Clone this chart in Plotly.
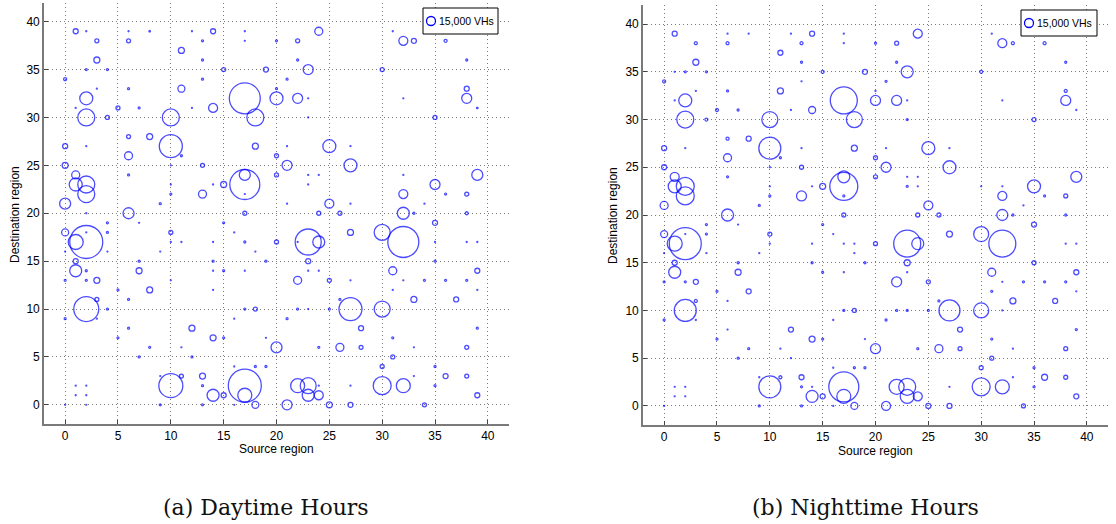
import plotly.graph_objects as go

# ---------------- Daytime data (source region, destination region, VHs) ----------------
day_src = [
    1, 2, 6, 8, 12, 14, 17, 24, 31,                 # 39
    3, 6, 13, 17, 20, 22, 32, 33, 36,               # 38
    11,                                             # 37
    3, 13, 22, 38,                                  # 36
    2, 4, 15, 19, 23, 30,                           # 35
    0, 13, 21,                                      # 34
    3, 6, 11, 20, 38,                               # 33
    2, 17, 20, 22, 23, 32, 38,                      # 32
    1, 5, 7, 12, 14, 39,                            # 31
    2, 4, 10, 18, 23, 35,                           # 30
    6, 8,                                           # 28
    0, 2, 10, 18, 21, 25, 27,                       # 27
    6, 11, 20,                                      # 26
    0, 10, 13, 21, 27,                              # 25
    1, 6, 17, 20, 23, 24, 32, 39,                   # 24
    1, 2, 10, 14, 15, 17, 23, 35,                   # 23
    2, 10, 13, 17, 32, 36, 38,                      # 22
    0, 9, 21, 25, 27, 34,                           # 21
    2, 6, 17, 24, 26, 32, 33, 38,                   # 20
    4, 7, 15, 35,                                   # 19
    0, 2, 4, 10, 16, 27, 30,                        # 18
    1, 2, 10, 11, 14, 17, 20, 22, 23, 24, 32, 35, 38, 39,  # 17
    0, 4, 9, 18,                                    # 16
    1, 7, 14, 19, 23, 35,                           # 15
    1, 2, 7, 14, 15, 17, 23, 24, 31, 39,            # 14
    0, 2, 3, 10, 22, 25, 27, 32, 34, 36, 38,        # 13
    5, 8, 14, 31, 39,                               # 12
    3, 6, 26, 33, 37,                               # 11
    2, 4, 17, 18, 22, 23, 25, 27, 30,               # 10
    0, 3, 16, 21,                                   # 9
    6, 12, 28, 39,                                  # 8
    5, 14, 15, 19, 31,                              # 7
    8, 11, 20, 24, 26, 28, 33, 38,                  # 6
    7, 12, 31,                                      # 5
    16, 18, 19, 30, 35,                             # 4
    9, 11, 13, 33, 36, 38,                          # 3
    1, 2, 10, 13, 17, 22, 23, 24, 27, 30, 32, 35,   # 2
    1, 2, 14, 15, 17, 23, 24, 39,                   # 1
    0, 2, 9, 13, 16, 18, 21, 25, 27, 34,            # 0
]
day_dst = [
    39, 39, 39, 39, 39, 39, 39, 39, 39,
    38, 38, 38, 38, 38, 38, 38, 38, 38,
    37,
    36, 36, 36, 36,
    35, 35, 35, 35, 35, 35,
    34, 34, 34,
    33, 33, 33, 33, 33,
    32, 32, 32, 32, 32, 32, 32,
    31, 31, 31, 31, 31, 31,
    30, 30, 30, 30, 30, 30,
    28, 28,
    27, 27, 27, 27, 27, 27, 27,
    26, 26, 26,
    25, 25, 25, 25, 25,
    24, 24, 24, 24, 24, 24, 24, 24,
    23, 23, 23, 23, 23, 23, 23, 23,
    22, 22, 22, 22, 22, 22, 22,
    21, 21, 21, 21, 21, 21,
    20, 20, 20, 20, 20, 20, 20, 20,
    19, 19, 19, 19,
    18, 18, 18, 18, 18, 18, 18,
    17, 17, 17, 17, 17, 17, 17, 17, 17, 17, 17, 17, 17, 17,
    16, 16, 16, 16,
    15, 15, 15, 15, 15, 15,
    14, 14, 14, 14, 14, 14, 14, 14, 14, 14,
    13, 13, 13, 13, 13, 13, 13, 13, 13, 13, 13,
    12, 12, 12, 12, 12,
    11, 11, 11, 11, 11,
    10, 10, 10, 10, 10, 10, 10, 10, 10,
    9, 9, 9, 9,
    8, 8, 8, 8,
    7, 7, 7, 7, 7,
    6, 6, 6, 6, 6, 6, 6, 6,
    5, 5, 5,
    4, 4, 4, 4, 4,
    3, 3, 3, 3, 3, 3,
    2, 2, 2, 2, 2, 2, 2, 2, 2, 2, 2, 2,
    1, 1, 1, 1, 1, 1, 1, 1,
    0, 0, 0, 0, 0, 0, 0, 0, 0, 0,
]
day_vhs = [
    3750, 150, 150, 350, 150, 3750, 150, 9600, 150,
    2400, 2400, 600, 150, 600, 2400, 12200, 3750, 1350,
    5400,
    5400, 600, 600, 600,
    600, 600, 2400, 3750, 15000, 2400,
    1350, 600, 600,
    150, 600, 7350, 600, 3750,
    25400, 144200, 25400, 15000, 150, 150, 15000,
    150, 2400, 600, 150, 12200, 350,
    43400, 2400, 43400, 43400, 150, 2400,
    2400, 5400,
    3750, 150, 79400, 5400, 150, 25400, 150,
    9600, 600, 2400,
    5400, 150, 2400, 15000, 25400,
    9600, 600, 18200, 2400, 150, 150, 150, 18200,
    25400, 43400, 150, 150, 5400, 135000, 150, 15000,
    43400, 600, 9600, 150, 12200, 600, 2400,
    18200, 600, 150, 12200, 150, 150,
    150, 18200, 2400, 2400, 2400, 21600, 600, 1350,
    600, 150, 600, 3750,
    7350, 150, 600, 2400, 150, 5400, 38400,
    33800, 163400, 150, 150, 150, 600, 2400, 150, 101400, 21600, 144200, 150, 150, 150,
    150, 150, 150, 150,
    3750, 600, 600, 600, 3750, 600,
    21600, 600, 5400, 150, 600, 150, 150, 150, 9600, 3750,
    600, 600, 5400, 150, 9600, 2400, 150, 150, 600, 600, 600,
    600, 5400, 150, 150, 150,
    2400, 600, 600, 5400, 3750,
    93800, 600, 600, 2400, 600, 150, 600, 79400, 38400,
    600, 150, 150, 600,
    600, 5400, 3750, 600,
    600, 5400, 600, 150, 600,
    600, 150, 18200, 600, 9600, 2400, 150, 2400,
    600, 600, 2400,
    150, 600, 600, 2400, 600,
    150, 2400, 5400, 150, 3750, 2400,
    150, 150, 86400, 600, 163400, 29400, 38400, 150, 150, 48600, 29400, 600,
    150, 150, 21600, 3750, 29400, 21600, 12200, 3750,
    150, 150, 600, 600, 150, 7350, 15000, 5400, 3750, 2400,
]

# ---------------- Nighttime data ----------------
night_src = [
    1, 6, 8, 12, 14, 17, 24, 31,                    # 39
    3, 6, 13, 17, 20, 22, 32, 33, 36,               # 38
    11,                                             # 37
    3, 13, 22, 38,                                  # 36
    1, 2, 4, 15, 19, 23, 30,                        # 35
    0, 13, 21,                                      # 34
    3, 6, 11, 20, 38,                               # 33
    1, 2, 17, 20, 22, 23, 32, 38,                   # 32
    5, 7, 12, 14, 39,                               # 31
    2, 4, 10, 18, 23, 35,                           # 30
    6, 8,                                           # 28
    0, 2, 10, 13, 18, 21, 25, 27,                   # 27
    6, 11, 20,                                      # 26
    0, 10, 13, 21, 27,                              # 25
    1, 6, 17, 20, 23, 24, 39,                       # 24
    1, 2, 10, 14, 15, 17, 23, 24, 30, 32, 35,       # 23
    2, 10, 13, 17, 32, 36, 38,                      # 22
    0, 9, 25, 34,                                   # 21
    6, 17, 24, 26, 32, 33, 38,                      # 20
    4, 7, 15, 35,                                   # 19
    0, 2, 4, 10, 16, 27, 30,                        # 18
    1, 2, 10, 14, 17, 18, 20, 23, 24, 32, 38, 39,   # 17
    0, 4, 9, 18,                                    # 16
    1, 7, 14, 19, 23, 35,                           # 15
    1, 7, 15, 17, 23, 31, 39,                       # 14
    0, 2, 3, 22, 25, 32, 34, 36, 38,                # 13
    5, 8, 31, 39,                                   # 12
    3, 6, 26, 33, 37,                               # 11
    2, 17, 18, 22, 23, 25, 27, 30, 32,              # 10
    0, 3, 16, 21,                                   # 9
    6, 12, 28, 39,                                  # 8
    5, 14, 15, 19, 31,                              # 7
    8, 11, 20, 24, 26, 28, 33, 38,                  # 6
    7, 12, 31,                                      # 5
    16, 18, 19, 30, 35,                             # 4
    9, 11, 13, 33, 36, 38,                          # 3
    1, 2, 10, 13, 14, 17, 22, 23, 27, 30, 32, 35,   # 2
    1, 2, 14, 15, 17, 23, 24, 39,                   # 1
    0, 9, 13, 16, 18, 21, 25, 27, 34,               # 0
]
night_dst = [
    39, 39, 39, 39, 39, 39, 39, 39,
    38, 38, 38, 38, 38, 38, 38, 38, 38,
    37,
    36, 36, 36, 36,
    35, 35, 35, 35, 35, 35, 35,
    34, 34, 34,
    33, 33, 33, 33, 33,
    32, 32, 32, 32, 32, 32, 32, 32,
    31, 31, 31, 31, 31,
    30, 30, 30, 30, 30, 30,
    28, 28,
    27, 27, 27, 27, 27, 27, 27, 27,
    26, 26, 26,
    25, 25, 25, 25, 25,
    24, 24, 24, 24, 24, 24, 24,
    23, 23, 23, 23, 23, 23, 23, 23, 23, 23, 23,
    22, 22, 22, 22, 22, 22, 22,
    21, 21, 21, 21,
    20, 20, 20, 20, 20, 20, 20,
    19, 19, 19, 19,
    18, 18, 18, 18, 18, 18, 18,
    17, 17, 17, 17, 17, 17, 17, 17, 17, 17, 17, 17,
    16, 16, 16, 16,
    15, 15, 15, 15, 15, 15,
    14, 14, 14, 14, 14, 14, 14,
    13, 13, 13, 13, 13, 13, 13, 13, 13,
    12, 12, 12, 12,
    11, 11, 11, 11, 11,
    10, 10, 10, 10, 10, 10, 10, 10, 10,
    9, 9, 9, 9,
    8, 8, 8, 8,
    7, 7, 7, 7, 7,
    6, 6, 6, 6, 6, 6, 6, 6,
    5, 5, 5,
    4, 4, 4, 4, 4,
    3, 3, 3, 3, 3, 3,
    2, 2, 2, 2, 2, 2, 2, 2, 2, 2, 2, 2,
    1, 1, 1, 1, 1, 1, 1, 1,
    0, 0, 0, 0, 0, 0, 0, 0, 0,
]
night_vhs = [
    3750, 150, 150, 150, 3750, 150, 12200, 150,
    1350, 1350, 1350, 150, 600, 2400, 12200, 1350, 1350,
    3750,
    5400, 600, 600, 600,
    150, 600, 600, 1350, 3750, 21600, 1350,
    1350, 150, 600,
    150, 600, 5400, 150, 1350,
    150, 25400, 109400, 15000, 15000, 150, 150, 15000,
    1350, 600, 150, 7350, 150,
    43400, 1350, 38400, 38400, 600, 2400,
    1350, 3750,
    3750, 150, 72600, 150, 5400, 150, 25400, 150,
    9600, 600, 2400,
    3750, 150, 2400, 15000, 25400,
    12200, 600, 21600, 2400, 150, 150, 18200,
    25400, 48600, 150, 150, 5400, 117600, 600, 150, 150, 150, 25400,
    48600, 600, 15000, 600, 12200, 600, 2400,
    9600, 600, 12200, 150,
    21600, 2400, 2400, 2400, 18200, 600, 600,
    600, 150, 600, 3750,
    7350, 150, 600, 2400, 150, 5400, 33800,
    33800, 153600, 150, 150, 150, 150, 2400, 109400, 21600, 109400, 150, 150,
    150, 150, 150, 150,
    3750, 600, 600, 600, 5400, 2400,
    21600, 5400, 600, 150, 150, 9600, 3750,
    600, 600, 3750, 15000, 2400, 150, 600, 600, 600,
    600, 3750, 600, 150,
    1350, 150, 600, 5400, 3750,
    72600, 600, 2400, 600, 600, 600, 66200, 33800, 150,
    600, 150, 150, 600,
    150, 3750, 3750, 600,
    600, 5400, 600, 150, 600,
    600, 150, 15000, 600, 9600, 2400, 150, 2400,
    600, 150, 2400,
    150, 600, 600, 2400, 600,
    150, 1350, 3750, 150, 5400, 2400,
    150, 150, 72600, 600, 150, 135000, 33800, 43400, 150, 48600, 29400, 600,
    150, 150, 21600, 3750, 29400, 29400, 12200, 3750,
    150, 600, 600, 150, 7350, 12200, 3750, 3750, 2400,
]

assert len(day_src) == len(day_dst) == len(day_vhs), (len(day_src), len(day_dst), len(day_vhs))
assert len(night_src) == len(night_dst) == len(night_vhs), (len(night_src), len(night_dst), len(night_vhs))

axis_ticks = [0, 5, 10, 15, 20, 25, 30, 35, 40]
axis_range = [-2, 42]
legend_value = 15000
legend_label = "15,000 VHs"
captions = ["(a) Daytime Hours", "(b) Nighttime Hours"]
x_title = "Source region"
y_title = "Destination region"

W, H = 1116, 524
BLUE = "#0000ff"
SIZEREF = 300  # area mode: 15,000 VHs -> ~10 px circle
MLW = 1.3


def px(x):
    return x / W


def py(y):
    return 1 - y / H


fig = go.Figure()

for i, (src, dst, vhs) in enumerate([(day_src, day_dst, day_vhs), (night_src, night_dst, night_vhs)]):
    fig.add_trace(go.Scatter(
        x=src, y=dst, mode="markers",
        xaxis="x" if i == 0 else "x2", yaxis="y" if i == 0 else "y2",
        marker=dict(size=vhs, sizemode="area", sizeref=SIZEREF, sizemin=0,
                    symbol="circle-open", color=BLUE, line=dict(color=BLUE, width=MLW)),
        showlegend=False, hoverinfo="x+y+text", text=[f"{v:,} VHs" for v in vhs],
    ))

font_ax = dict(family="Liberation Sans, Arial, sans-serif", size=12, color="black")

def axis(domain, anchor):
    return dict(domain=domain, anchor=anchor, range=axis_range, tickvals=axis_ticks,
                ticks="inside", ticklen=4, tickcolor="#444", tickwidth=1,
                showline=True, linecolor="#7a7a7a", linewidth=1.6, mirror=False,
                showgrid=True, gridcolor="#7a7a7a", gridwidth=1, griddash="1px,3px",
                zeroline=False, tickfont=font_ax, fixedrange=True)

fig.update_layout(
    width=W, height=H, margin=dict(l=0, r=0, t=0, b=0),
    paper_bgcolor="white", plot_bgcolor="white",
    xaxis=axis([px(44), px(509)], "y"),
    yaxis=axis([py(424), py(2.5)], "x"),
    xaxis2=axis([px(643), px(1108)], "y2"),
    yaxis2=axis([py(425), py(5)], "x2"),
    showlegend=False,
)

# legend boxes (drawn in paper coordinates)
legend_boxes = [(423, 8, 498, 34), (1021, 10, 1097, 36)]
shapes = []
annotations = []
legend_d = (legend_value / (SIZEREF / 2)) ** 0.5 - 1
for (x0, y0, x1, y1) in legend_boxes:
    shapes.append(dict(type="rect", xref="paper", yref="paper", x0=px(x0), x1=px(x1), y0=py(y1), y1=py(y0),
                       line=dict(color="black", width=1), fillcolor="white", layer="above"))
    cx, cy = x0 + 8, (y0 + y1) / 2
    r = legend_d / 2
    shapes.append(dict(type="circle", xref="paper", yref="paper", x0=px(cx - r), x1=px(cx + r),
                       y0=py(cy + r), y1=py(cy - r), line=dict(color=BLUE, width=MLW), layer="above"))
    annotations.append(dict(text=legend_label, xref="paper", yref="paper", x=px(x0 + 14), y=py(cy),
                            xanchor="left", yanchor="middle", showarrow=False,
                            font=dict(family="Liberation Sans, Arial, sans-serif", size=10.5, color="black")))

# axis titles and captions
for cx_title, cy_title, cx_y, cy_y in [(276, 449, 15, 215), (875, 451, 613, 216)]:
    annotations.append(dict(text=x_title, xref="paper", yref="paper", x=px(cx_title), y=py(cy_title),
                            xanchor="center", yanchor="middle", showarrow=False, font=font_ax))
    annotations.append(dict(text=y_title, xref="paper", yref="paper", x=px(cx_y), y=py(cy_y),
                            xanchor="center", yanchor="middle", showarrow=False, textangle=-90, font=font_ax))
for cap, cx_cap in zip(captions, [266, 865]):
    annotations.append(dict(text=cap, xref="paper", yref="paper", x=px(cx_cap), y=py(507),
                            xanchor="center", yanchor="middle", showarrow=False,
                            font=dict(family="DejaVu Serif, serif", size=22, color="#111")))

fig.update_layout(shapes=shapes, annotations=annotations)

fig.write_html("out.html")
